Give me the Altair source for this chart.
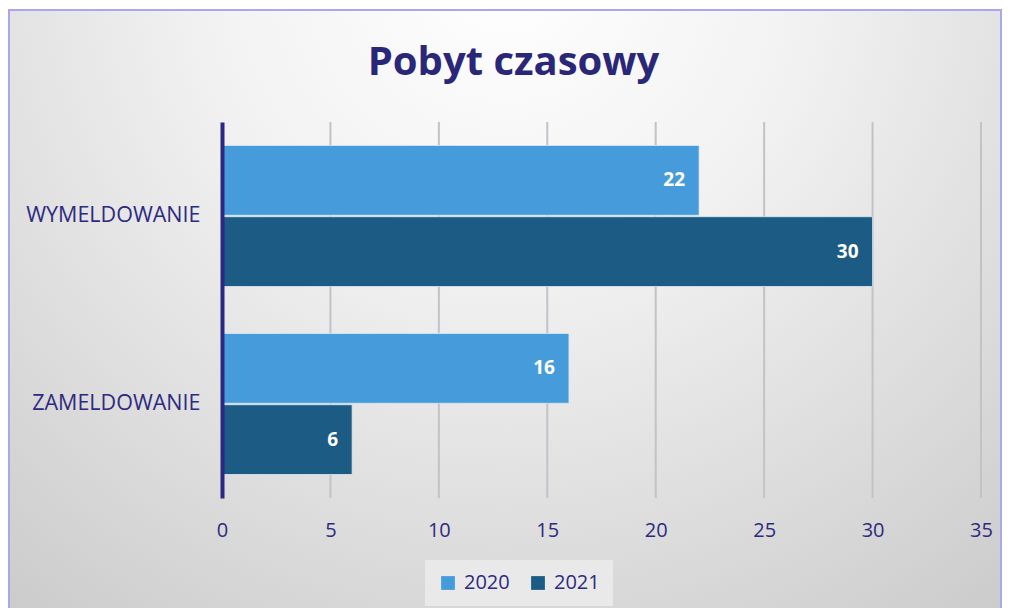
import altair as alt
import pandas as pd

categories = ["WYMELDOWANIE", "ZAMELDOWANIE"]
years = ["2020", "2021"]
values_2020 = [22, 16]
values_2021 = [30, 6]
x_ticks = [0, 5, 10, 15, 20, 25, 30, 35]
grid_ticks = [5, 10, 15, 20, 25, 30, 35]
colors = ["#469BDA", "#1C5B83"]

rows = []
for c, v in zip(categories, values_2020):
    rows.append({"cat": c, "year": "2020", "value": v})
for c, v in zip(categories, values_2021):
    rows.append({"cat": c, "year": "2021", "value": v})
df = pd.DataFrame(rows)
grid_df = pd.DataFrame({"value": grid_ticks})
bg_df = pd.DataFrame({"k": [0]})

W, H = 759, 376
PAD = {"left": 214, "top": 114, "right": 21, "bottom": 110}

ink = "#2E2A80"
font = "Open Sans"

xsc = alt.Scale(domain=[0, 35], nice=False)
xaxis = alt.Axis(values=x_ticks, zindex=1, grid=False, ticks=False, domain=False,
                 labelFlush=False, labelColor=ink, labelFont=font, labelFontSize=20,
                 labelPadding=22)
ysc = alt.Scale(domain=categories, paddingInner=0.25, paddingOuter=0.125)

bg = alt.Chart(bg_df).mark_rect(
    color=alt.RadialGradient(
        gradient="radial",
        stops=[alt.GradientStop(color="#ffffff", offset=0),
               alt.GradientStop(color="#f2f2f2", offset=0.35),
               alt.GradientStop(color="#c9c9c9", offset=1)],
        x1=0.5, y1=0.15, r1=0, x2=0.5, y2=0.15, r2=0.85),
    stroke="#ABA7EE", strokeWidth=2, clip=False,
).encode(
    x=alt.value(-213), x2=alt.value(W + 20),
    y=alt.value(-112), y2=alt.value(H + 120),
)

grid = alt.Chart(grid_df).mark_rule(color="#C2C2C8", strokeWidth=2).encode(
    x=alt.X("value:Q", scale=xsc, title=None, axis=xaxis)
)

base = alt.Chart(df).encode(
    y=alt.Y("cat:N", scale=ysc, sort=categories, title=None,
            axis=alt.Axis(zindex=1, ticks=False, domainColor="#2C2785", domainWidth=4,
                          labelColor=ink, labelFont=font, labelFontSize=21.5,
                          labelPadding=22, labelLimit=400)),
    yOffset=alt.YOffset("year:N", sort=years, scale=alt.Scale(paddingInner=0.02)),
)

bars = base.mark_bar(stroke="#DCE8F2", strokeWidth=1, strokeOpacity=0.8).encode(
    x=alt.X("value:Q", scale=xsc, title=None, axis=xaxis),
    color=alt.Color("year:N", sort=years, scale=alt.Scale(domain=years, range=colors),
                    legend=alt.Legend(title=None, orient="none", legendX=203, legendY=438,
                                      direction="horizontal", fillColor="#E9E9E9",
                                      padding=13, symbolType="square", symbolSize=190,
                                      symbolStrokeWidth=0, labelFont=font,
                                      labelFontSize=20, labelColor=ink, labelOffset=6,
                                      columnPadding=18)),
)

labels = base.mark_text(align="right", baseline="middle", dx=-14, color="white",
                        font=font, fontWeight="bold", fontSize=19).encode(
    x=alt.X("value:Q", scale=xsc, title=None, axis=xaxis),
    text=alt.Text("value:Q"),
)

chart = alt.layer(bg, grid, bars, labels).properties(
    width=W, height=H,
    autosize=alt.AutoSizeParams(type="none"),
    padding=PAD,
    title=alt.TitleParams("Pobyt czasowy", font=font, fontSize=40, fontWeight="bold",
                          color="#2B2778", anchor="middle", frame="group", dx=-88,
                          baseline="alphabetic", offset=-106),
).configure_view(stroke=None).configure(background="white")

chart.save("out.html", embed_options={"renderer": "svg", "actions": False})
